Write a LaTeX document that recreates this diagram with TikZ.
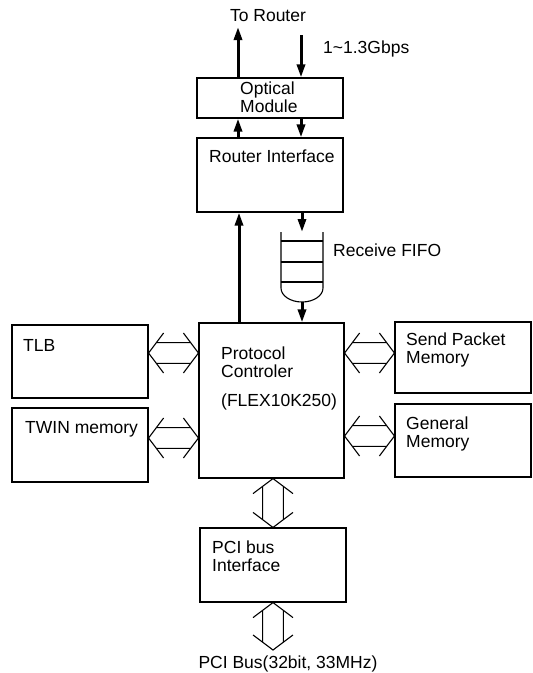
\documentclass[tikz,border=0pt]{standalone}
\usepackage{fontspec}
\setmainfont{Liberation Sans}
\usetikzlibrary{arrows.meta,calc}

\tikzset{
  box/.style={draw, line width=1.1pt, inner sep=0pt},
  txt/.style={font=\fontsize{17.5}{18}\selectfont, inner sep=0pt, align=left},
  bigarrow/.style={line width=3pt, -{Triangle[length=13pt,width=8pt]}},
  bus/.style={line width=1.1pt, to path={
    ($(\tikztostart)!25pt!53:(\tikztotarget)$) -- (\tikztostart) -- ($(\tikztostart)!25pt!-53:(\tikztotarget)$)
    ($(\tikztotarget)!25pt!53:(\tikztostart)$) -- (\tikztotarget) -- ($(\tikztotarget)!25pt!-53:(\tikztostart)$)
    ($(\tikztostart)!13pt!53:(\tikztotarget)$) -- ($(\tikztotarget)!13pt!-53:(\tikztostart)$)
    ($(\tikztostart)!13pt!-53:(\tikztotarget)$) -- ($(\tikztotarget)!13pt!53:(\tikztostart)$)}},
}

\begin{document}
\begin{tikzpicture}[x=1pt,y=-1pt]
	\useasboundingbox (0,0) rectangle (533,673);
	% boxes
	\node[box, minimum width=146pt, minimum height=40pt] (optical) at (270,98) {};
	\node[box, minimum width=146pt, minimum height=74pt] (router) at (270,175) {};
	\node[box, minimum width=145pt, minimum height=155pt] (proto) at (271.5,400.5) {};
	\node[box, minimum width=136pt, minimum height=73pt] (tlb) at (80,361.5) {};
	\node[box, minimum width=136pt, minimum height=74pt] (twin) at (80,445) {};
	\node[box, minimum width=136pt, minimum height=71pt] (send) at (463,357.5) {};
	\node[box, minimum width=136pt, minimum height=73pt] (general) at (463,440.5) {};
	\node[box, minimum width=146pt, minimum height=74pt] (pci) at (273,565) {};
	% texts
	\node[txt, anchor=base] (torouter-t) at (268,21) {To Router};
	\node[txt, anchor=base west] (speed) at (323,53) {1\textasciitilde1.3Gbps};
	\node[txt, anchor=north west] at (240,82) {Optical\\Module};
	\node[txt, anchor=north west] at (209,150) {Router Interface};
	\node[txt, anchor=north west] at (333,244) {Receive FIFO};
	\node[txt, anchor=north west] at (23,339) {TLB};
	\node[txt, anchor=north west] at (25,421) {TWIN memory};
	\node[txt, anchor=north west] at (221,347) {Protocol\\Controler\\[11pt](FLEX10K250)};
	\node[txt, anchor=north west] at (406,333) {Send Packet\\Memory};
	\node[txt, anchor=north west] at (406,417) {General\\Memory};
	\node[txt, anchor=north west] at (212,541) {PCI bus\\Interface};
	\node[txt, anchor=base] (pcibus-t) at (288,668) {PCI Bus(32bit, 33MHz)};
	% receive fifo
	\draw[line width=1.1pt] (281,232) -- (281,288) arc[start angle=180, end angle=0, x radius=21, y radius=14] -- (323,232);
	\draw[line width=1.1pt] (281,241) -- (323,241);
	\draw[line width=1.1pt] (281,262) -- (323,262);
	\draw[line width=1.1pt] (281,282) -- (323,282);
	\coordinate (fifotop) at (302,232);
	\coordinate (fifobot) at (302,302);
	% thick arrows
	\coordinate (torouter) at (238,27);
	\coordinate (fromrouter) at (301,35);
	\draw[bigarrow] (optical.north -| torouter) -- (torouter);
	\draw[bigarrow] (fromrouter) -- (fromrouter |- optical.north);
	\draw[bigarrow] (router.north -| torouter) -- (optical.south -| torouter);
	\draw[bigarrow] (optical.south -| fromrouter) -- (router.north -| fromrouter);
	\draw[bigarrow] (proto.north -| 239,0) -- (router.south -| 239,0);
	\draw[bigarrow] (router.south -| fifotop) -- (fifotop);
	\draw[bigarrow] (fifobot) -- (fifobot |- proto.north);
	% bus arrows
	\coordinate (pcibus) at (273,650);
	\draw[bus] (tlb.east |- 0,353) to (proto.west |- 0,353);
	\draw[bus] (twin.east |- 0,438) to (proto.west |- 0,438);
	\draw[bus] (proto.east |- 0,353) to (send.west |- 0,353);
	\draw[bus] (proto.east |- 0,436) to (general.west |- 0,436);
	\draw[bus] (proto.south -| pci.north) to (pci.north);
	\draw[bus] (pci.south) to (pcibus);
\end{tikzpicture}
\end{document}
